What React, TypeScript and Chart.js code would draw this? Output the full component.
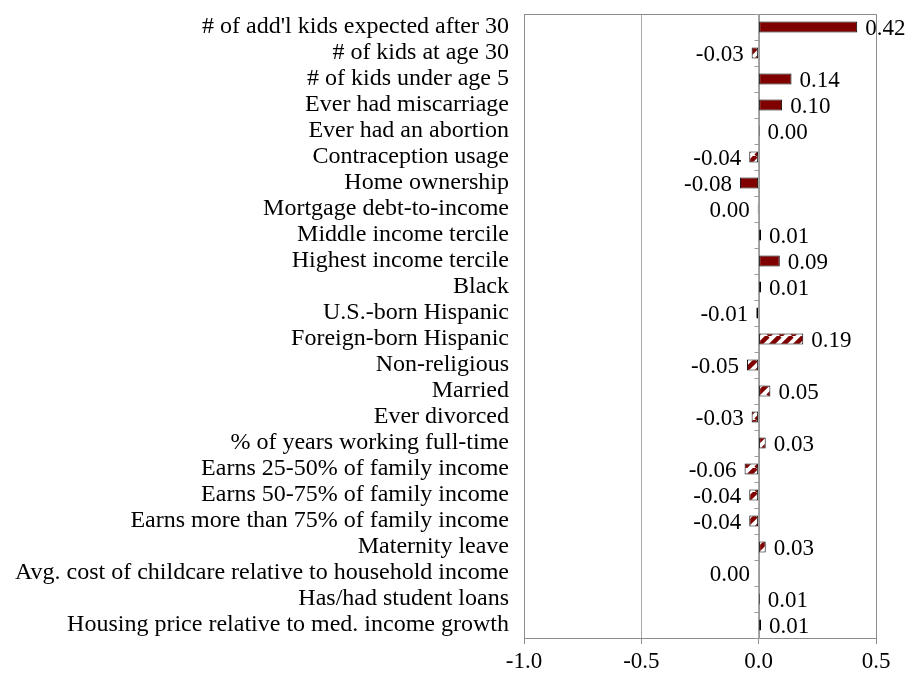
import React, { useEffect, useRef } from "react";
import { Chart, registerables } from "chart.js";

Chart.register(...registerables);

const categories: string[] = [
  "# of add'l kids expected after 30",
  "# of kids at age 30",
  "# of kids under age 5",
  "Ever had miscarriage",
  "Ever had an abortion",
  "Contraception usage",
  "Home ownership",
  "Mortgage debt-to-income",
  "Middle income tercile",
  "Highest income tercile",
  "Black",
  "U.S.-born Hispanic",
  "Foreign-born Hispanic",
  "Non-religious",
  "Married",
  "Ever divorced",
  "% of years working full-time",
  "Earns 25-50% of family income",
  "Earns 50-75% of family income",
  "Earns more than 75% of family income",
  "Maternity leave",
  "Avg. cost of childcare relative to household income",
  "Has/had student loans",
  "Housing price relative to med. income growth",
];

const values: number[] = [
  0.42, -0.03, 0.14, 0.1, 0.004, -0.04, -0.08, -0.004, 0.01, 0.09, 0.01, -0.01,
  0.19, -0.05, 0.05, -0.03, 0.03, -0.06, -0.04, -0.04, 0.03, -0.003, 0.005, 0.01,
];

// significance class per category: "sig" solid, "weak" hatched, "ns" empty
const significance: string[] = [
  "sig", "weak", "sig", "sig", "ns", "weak", "sig", "ns", "ns", "sig", "weak", "ns",
  "weak", "weak", "weak", "weak", "weak", "weak", "weak", "weak", "weak", "weak", "ns", "weak",
];

const xTicks: number[] = [-1.0, -0.5, 0.0, 0.5];

const DARK_RED = "#800000";
const SERIF = "'Liberation Serif', 'Times New Roman', serif";

function makeHatch(): CanvasPattern | string {
  const size = 12;
  const c = document.createElement("canvas");
  c.width = size;
  c.height = size;
  const g = c.getContext("2d");
  if (!g) return DARK_RED;
  g.fillStyle = "#ffffff";
  g.fillRect(0, 0, size, size);
  g.strokeStyle = DARK_RED;
  g.lineWidth = 4.5;
  for (const off of [-size, 0, size]) {
    g.beginPath();
    g.moveTo(off, size);
    g.lineTo(off + size, 0);
    g.stroke();
  }
  const p = g.createPattern(c, "repeat");
  return p || DARK_RED;
}

function fmt(v: number): string {
  const s = v.toFixed(2);
  return s === "-0.00" ? "0.00" : s;
}

const framePlugin = {
  id: "frameAndZero",
  beforeDatasetsDraw(chart: any) {
    const { ctx, chartArea } = chart;
    const xs = chart.scales.x;
    ctx.save();
    ctx.strokeStyle = "#8c8c8c";
    ctx.lineWidth = 1;
    ctx.strokeRect(
      Math.round(chartArea.left) + 0.5,
      Math.round(chartArea.top) + 0.5,
      Math.round(chartArea.right - chartArea.left),
      Math.round(chartArea.bottom - chartArea.top)
    );
    // zero axis with category ticks
    const zx = Math.round(xs.getPixelForValue(0)) + 0.5;
    ctx.strokeStyle = "#9a9a9a";
    ctx.beginPath();
    ctx.moveTo(zx, chartArea.top);
    ctx.lineTo(zx, chartArea.bottom);
    const n = categories.length;
    const step = (chartArea.bottom - chartArea.top) / n;
    for (let i = 0; i <= n; i++) {
      const y = Math.round(chartArea.top + i * step) + 0.5;
      ctx.moveTo(zx - 5, y);
      ctx.lineTo(zx, y);
    }
    ctx.stroke();
    ctx.restore();
  },
  afterDatasetsDraw(chart: any) {
    const { ctx } = chart;
    const meta = chart.getDatasetMeta(0);
    ctx.save();
    ctx.font = `23px ${SERIF}`;
    ctx.fillStyle = "#000";
    ctx.textBaseline = "middle";
    meta.data.forEach((bar: any, i: number) => {
      const v = values[i];
      const txt = fmt(v);
      const y = bar.y + 2;
      if (v >= 0) {
        ctx.textAlign = "left";
        ctx.fillText(txt, bar.x + 8, y);
      } else {
        ctx.textAlign = "right";
        ctx.fillText(txt, bar.x - 8, y);
      }
    });
    ctx.restore();
  },
};

export default function App() {
  const ref = useRef<HTMLCanvasElement | null>(null);

  useEffect(() => {
    const canvas = ref.current;
    if (!canvas) return;
    const hatch = makeHatch();
    const fills = significance.map((s) =>
      s === "sig" ? DARK_RED : s === "weak" ? hatch : "#ffffff"
    );
    const chart = new Chart(canvas, {
      type: "bar",
      data: {
        labels: categories,
        datasets: [
          {
            data: values,
            backgroundColor: fills as any,
            borderColor: "#000000",
            borderWidth: 1,
            borderSkipped: false,
            barPercentage: 0.42,
            categoryPercentage: 1,
          },
        ],
      },
      options: {
        indexAxis: "y",
        responsive: false,
        animation: false,
        devicePixelRatio: 1,
        layout: { padding: { top: 14, right: 34, left: 0, bottom: 0 } },
        plugins: {
          legend: { display: false },
          tooltip: { enabled: false },
          title: { display: false },
        },
        scales: {
          x: {
            type: "linear",
            min: -1,
            max: 0.5,
            afterBuildTicks(scale: any) {
              scale.ticks = xTicks.map((v) => ({ value: v }));
            },
            afterFit(scale: any) {
              scale.height = 37;
              scale.paddingLeft = 0;
              scale.paddingRight = 0;
            },
            ticks: {
              color: "#000",
              font: { family: SERIF, size: 23 },
              padding: 4,
              callback: (v: any) => Number(v).toFixed(1),
            },
            grid: {
              color: "#a8a8a8",
              lineWidth: 1,
              drawTicks: true,
              tickLength: 6,
              tickColor: "#8c8c8c",
            },
            border: { display: true, color: "#8c8c8c" },
          },
          y: {
            type: "category",
            afterFit(scale: any) {
              scale.width = 524;
              scale.paddingTop = 0;
              scale.paddingBottom = 0;
            },
            ticks: {
              color: "#000",
              font: { family: SERIF, size: 24 },
              padding: 15,
              autoSkip: false,
            },
            grid: { display: false, drawTicks: false },
            border: { display: false },
          },
        },
      },
      plugins: [framePlugin],
    });
    return () => chart.destroy();
  }, []);

  return (
    <div style={{ position: "absolute", left: 0, top: 0, width: 910, height: 675, background: "#fff" }}>
      <canvas ref={ref} width={910} height={675} style={{ display: "block" }} />
    </div>
  );
}
